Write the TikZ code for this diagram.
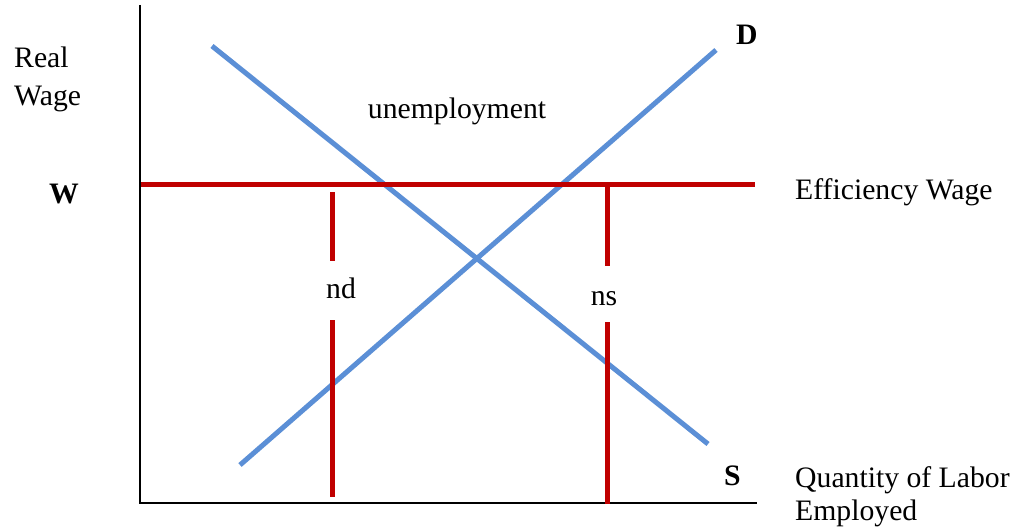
\documentclass[tikz,border=0pt]{standalone}
\usepackage{fontspec}
\setmainfont{Liberation Serif}
\definecolor{curveblue}{HTML}{5B8FD6}
\definecolor{wagered}{HTML}{C00000}
\tikzset{
  axisline/.style={draw=black, line width=2pt},
  curve/.style={draw=curveblue, line width=5pt},
  redline/.style={draw=wagered, line width=5pt},
  lbl/.style={inner sep=0pt, font=\fontsize{29.7}{34}\selectfont},
  blbl/.style={inner sep=0pt, font=\fontsize{29.7}{34}\selectfont\bfseries},
}
\begin{document}
\begin{tikzpicture}[x=1pt,y=-1pt]
\useasboundingbox[fill=white] (0,0) rectangle (1026,527);
% axes
\coordinate (ytop) at (140,5);
\coordinate (origin) at (140,503);
\coordinate (xend) at (757,503);
\draw[axisline] (ytop) -- (origin) -- (xend);
% curves
\coordinate (s1) at (212,46);
\coordinate (s2) at (708,444);
\coordinate (d1) at (240,465);
\coordinate (d2) at (716,50);
\draw[curve] (s1) -- (s2);
\draw[curve] (d1) -- (d2);
% efficiency wage line
\coordinate (w1) at (141,184);
\coordinate (w2) at (755,184);
\draw[redline] (w1) -- (w2);
% nd vertical
\coordinate (nda) at (332,192);
\coordinate (ndb) at (332,261);
\coordinate (ndc) at (332,320);
\coordinate (ndd) at (332,497);
\draw[redline] (nda) -- (ndb);
\draw[redline] (ndc) -- (ndd);
% ns vertical
\coordinate (nsa) at (607,184);
\coordinate (nsb) at (607,266);
\coordinate (nsc) at (607,322);
\coordinate (nsd) at (607,504);
\draw[redline] (nsa) -- (nsb);
\draw[redline] (nsc) -- (nsd);
% labels
\node[lbl, anchor=base west] (real) at (14,67) {Real};
\node[lbl, anchor=base west] (wage) at (14,106) {Wage};
\node[blbl, anchor=base] (W) at (64,203) {W};
\node[lbl, anchor=base] (unemp) at (457,118) {unemployment};
\node[lbl, anchor=base west] (eff) at (795,199) {Efficiency Wage};
\node[lbl, anchor=base] (nd) at (341,298) {nd};
\node[lbl, anchor=base] (ns) at (604,305) {ns};
\node[blbl, anchor=base west] (D) at (736,45) {D};
\node[blbl, anchor=base west] (S) at (724,485) {S};
\node[lbl, anchor=base west] (qty) at (795,487) {Quantity of Labor};
\node[lbl, anchor=base west] (emp) at (795,520) {Employed};
\end{tikzpicture}
\end{document}
